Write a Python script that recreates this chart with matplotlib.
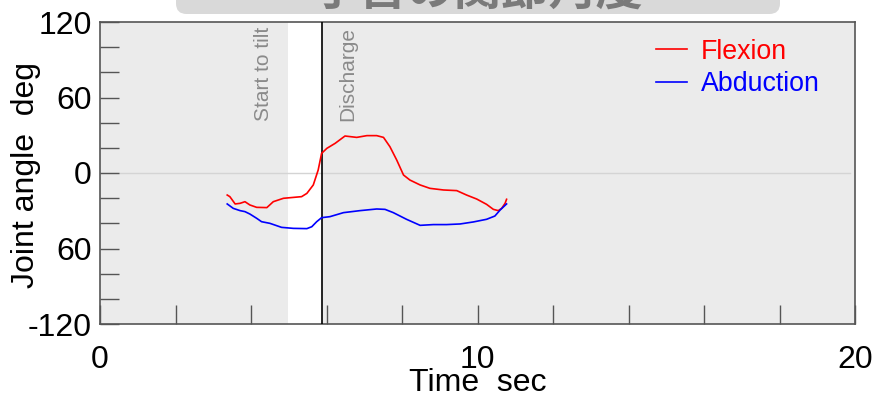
import matplotlib
matplotlib.use("Agg")
import matplotlib.pyplot as plt
from matplotlib.patches import FancyBboxPatch
import numpy as np

# ---- data ----
flex_t = [3.37, 3.44, 3.58, 3.71, 3.84, 3.97, 4.15, 4.42, 4.59, 4.86, 5.34, 5.48,
          5.65, 5.78, 5.87, 6.01, 6.23, 6.49, 6.80, 7.07, 7.33, 7.51, 7.68, 7.86,
          8.04, 8.21, 8.48, 8.74, 9.10, 9.45, 9.71, 9.98, 10.24, 10.42, 10.55,
          10.64, 10.73, 10.77]
flex_v = [-17.5, -18.8, -24.6, -24.1, -22.8, -25.4, -27.3, -27.5, -22.8, -20.1,
          -18.8, -16.2, -9.5, 2.4, 15.6, 19.6, 23.6, 29.4, 28.3, 29.7, 29.7, 28.3,
          20.9, 10.3, -1.6, -5.6, -9.5, -12.2, -13.5, -14.0, -17.5, -20.7, -24.9,
          -28.9, -29.9, -28.1, -24.1, -20.9]
abd_t = [3.37, 3.53, 3.71, 3.84, 3.97, 4.15, 4.28, 4.50, 4.81, 5.12, 5.48, 5.61,
         5.74, 5.87, 6.09, 6.45, 6.89, 7.33, 7.55, 7.77, 8.12, 8.48, 8.83, 9.18,
         9.54, 9.89, 10.24, 10.46, 10.60, 10.77]
abd_v = [-24.6, -28.1, -29.9, -30.7, -32.6, -36.0, -38.7, -40.0, -43.2, -44.0,
         -44.2, -42.7, -38.7, -35.5, -34.7, -31.5, -29.9, -28.6, -28.9, -31.5,
         -36.8, -41.6, -41.0, -41.0, -40.5, -38.9, -36.8, -34.2, -29.4, -24.6]
tilt_start = 4.99
discharge = 5.88
series_names = ["Flexion", "Abduction"]
yticks = [-120, -60, 0, 60, 120]
ytick_labels = ["-120", "60", "0", "60", "120"]
xticks = [0, 10, 20]
xtick_labels = ["0", "10", "20"]
title = "手首の関節角度"

plt.rcParams['font.family'] = ['Liberation Sans', 'Noto Sans CJK JP', 'DejaVu Sans']

fig = plt.figure(figsize=(8.77, 3.98), dpi=100)
fig.patch.set_facecolor('white')
ax = fig.add_axes([100/877, 1-324/398, 755/877, 302/398])
ax.set_facecolor('#ebebeb')
ax.set_xlim(0, 20)
ax.set_ylim(-120, 120)

ax.axvspan(tilt_start, discharge, color='white', lw=0, zorder=0.5)
ax.axhline(0, color='#d4d4d4', lw=1, zorder=0.6, xmax=0.993)
ax.axvline(discharge, color='black', lw=1.2, zorder=3)

ax.plot(flex_t, flex_v, color='red', lw=1.2, label=series_names[0], zorder=4)
ax.plot(abd_t, abd_v, color='blue', lw=1.2, label=series_names[1], zorder=4)

ax.text(4.32, 116, "Start to tilt", rotation=90, ha='center', va='top',
        color='#8a8a8a', fontsize=15)
ax.text(6.57, 116, "Discharge", rotation=90, ha='center', va='top',
        color='#8a8a8a', fontsize=15)

leg = ax.legend(loc='upper right', frameon=False, fontsize=19.3,
                handlelength=1.15, handletextpad=0.5, labelspacing=0.25,
                bbox_to_anchor=(0.953, 0.945), borderaxespad=0, borderpad=0)
for txt, c in zip(leg.get_texts(), ['red', 'blue']):
    txt.set_color(c)

ax.set_yticks(yticks)
ax.set_yticklabels(ytick_labels)
ax.set_yticks(np.arange(-100, 120, 20), minor=True)
ax.set_xticks(xticks)
ax.set_xticklabels(xtick_labels)
ax.set_xticks(np.arange(0, 21, 2), minor=True)
ax.tick_params(axis='both', which='both', direction='in', length=14,
               width=1, color='#555555', labelsize=23)
ax.tick_params(axis='y', which='both', pad=6)
ax.tick_params(axis='x', which='both', pad=15)
for s in ax.spines.values():
    s.set_color('#555555')
    s.set_linewidth(1.2)

ax.set_ylabel("Joint angle  deg", fontsize=23, va='center')
ax.yaxis.set_label_coords(-0.098, 0.493)
ax.set_xlabel("Time  sec", fontsize=23, va='top')
ax.xaxis.set_label_coords(0.5, -0.146)

# title box, clipped by top edge
box = FancyBboxPatch((176/877, 1-14/398), (780-176)/877, 60/398,
                     boxstyle="round,pad=0,rounding_size=0.012",
                     transform=fig.transFigure, facecolor='#d9d9d9',
                     edgecolor='none', mutation_aspect=877/398)
fig.patches.append(box)
fig.text(477/877, 1-6/398, title, ha='center', va='baseline', fontsize=34,
         fontweight='bold', color='#7a7a7a',
         family=['Noto Sans CJK JP', 'DejaVu Sans'])

fig.savefig("out.png", dpi=100)
